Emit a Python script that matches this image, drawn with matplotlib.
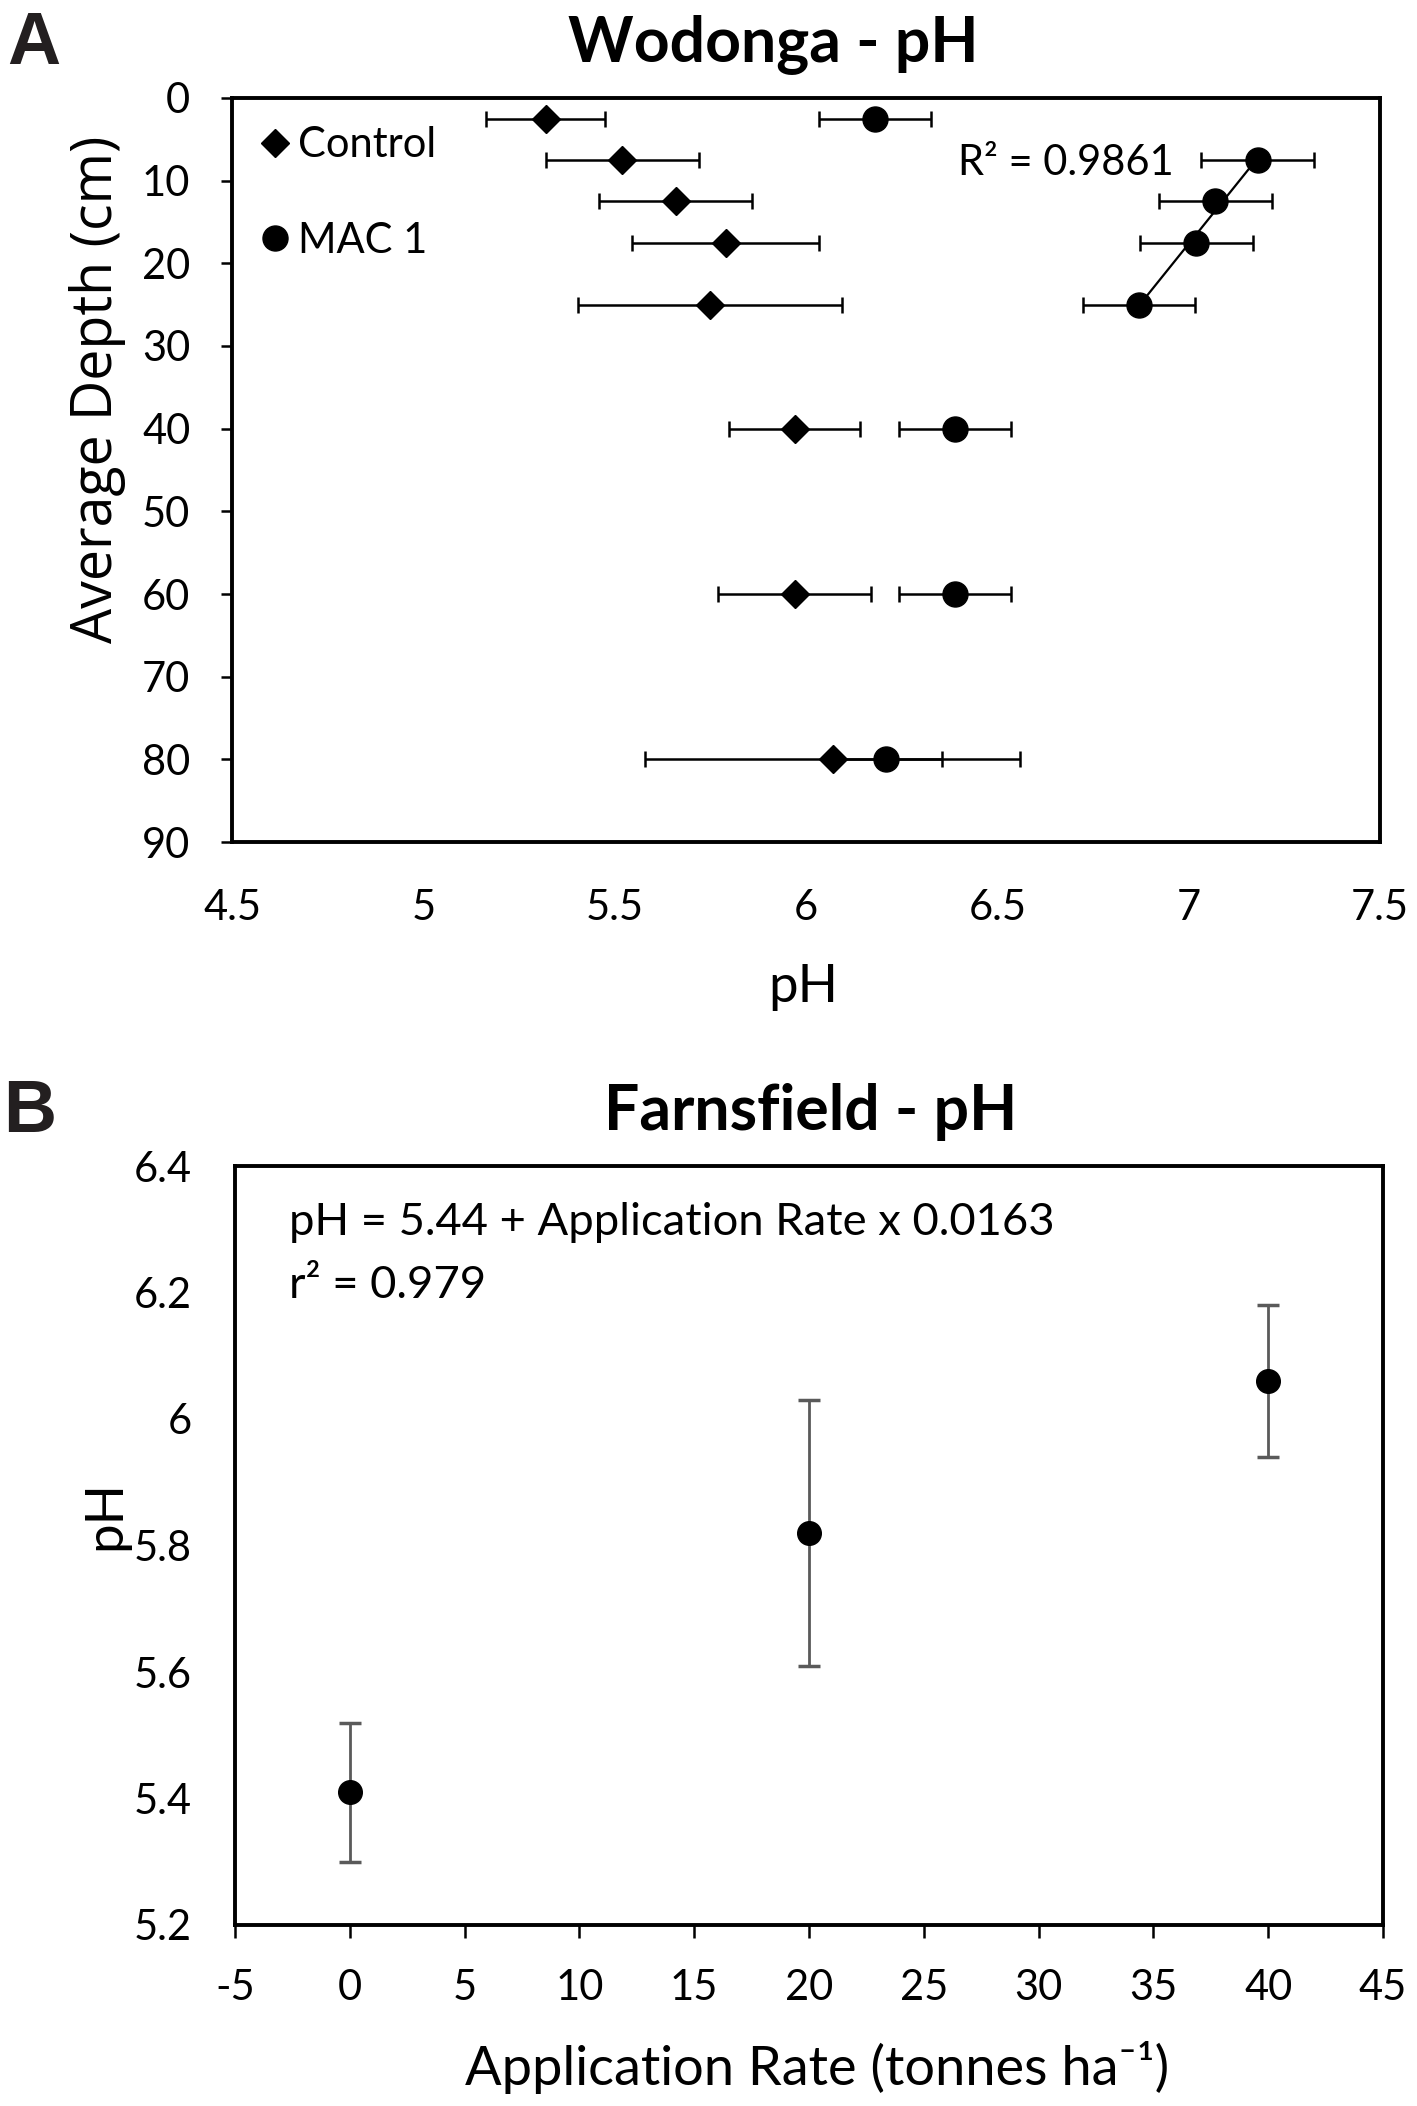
import matplotlib
matplotlib.use('Agg')
import matplotlib.pyplot as plt
import numpy as np

plt.rcParams['font.family'] = ['Lato', 'DejaVu Sans']
plt.rcParams['axes.unicode_minus'] = False

# Panel A: Wodonga, pH by depth
depth = [2.5, 7.5, 12.5, 17.5, 25, 40, 60, 80]
control_ph = [5.32, 5.52, 5.66, 5.79, 5.75, 5.97, 5.97, 6.07]
control_err = [0.155, 0.20, 0.20, 0.245, 0.345, 0.17, 0.20, 0.49]
mac_ph = [6.18, 7.18, 7.07, 7.02, 6.87, 6.39, 6.39, 6.21]
mac_err = [0.146, 0.147, 0.147, 0.147, 0.147, 0.146, 0.146, 0.146]
trend_idx = [1, 2, 3, 4]   # MAC 1 points used for the trendline
r2_text_a = 'R² = 0.9861'

# Panel B: Farnsfield, pH by application rate
rate = [0, 20, 40]
rate_ph = [5.41, 5.82, 6.06]
rate_err = [0.11, 0.21, 0.12]
eq_text = 'pH = 5.44 + Application Rate x 0.0163'
r2_text_b = 'r² = 0.979'

W, H = 1417, 2106
fig = plt.figure(figsize=(W / 100, H / 100), dpi=100)


def frac_box(left, top, right, bottom):
    return [left / W, 1 - bottom / H, (right - left) / W, (bottom - top) / H]


SPINE_W = 2.8
TICK_FS = 30

# ---------------- panel A ----------------
ax = fig.add_axes(frac_box(232, 98, 1380, 842))
ax.errorbar(control_ph, depth, xerr=control_err, fmt='none', ecolor='black',
            elinewidth=1.8, capsize=6, capthick=1.8, zorder=2)
ax.errorbar(mac_ph, depth, xerr=mac_err, fmt='none', ecolor='black',
            elinewidth=1.8, capsize=6, capthick=1.8, zorder=2)

tx = np.array([mac_ph[i] for i in trend_idx])
ty = np.array([depth[i] for i in trend_idx])
fit = np.polyfit(tx, ty, 1)
xs = np.array([tx.min(), tx.max()])
ax.plot(xs, np.polyval(fit, xs), color='black', lw=1.6, zorder=3)

h_ctrl, = ax.plot(control_ph, depth, ls='none', marker='D', ms=14,
                  color='black', zorder=4, label='Control')
h_mac, = ax.plot(mac_ph, depth, ls='none', marker='o', ms=18,
                 color='black', zorder=4, label='MAC 1')

ax.set_xlim(4.5, 7.5)
ax.set_ylim(90, 0)
ax.set_xticks(np.arange(4.5, 7.51, 0.5))
ax.set_xticklabels(['4.5', '5', '5.5', '6', '6.5', '7', '7.5'])
ax.set_yticks(np.arange(0, 91, 10))
ax.tick_params(axis='x', length=0, pad=34, labelsize=TICK_FS)
ax.tick_params(axis='y', direction='out', length=8, width=1.8, pad=22,
               labelsize=TICK_FS)
for s in ax.spines.values():
    s.set_linewidth(SPINE_W)

ax.set_xlabel('pH', fontsize=38)
ax.xaxis.label.set_va('center')
ax.xaxis.set_label_coords(0.498, -0.195)
ax.set_ylabel('Average Depth (cm)', fontsize=40, family=['Open Sans', 'DejaVu Sans'])
ax.yaxis.label.set_va('center')
ax.yaxis.set_label_coords(-0.117, 0.608)

ax.text(0.632, 0.9126, r2_text_a, transform=ax.transAxes, fontsize=30,
        ha='left', va='center')

ax.legend(handles=[h_ctrl, h_mac], loc='upper left',
          bbox_to_anchor=(0.027, 0.962), frameon=False, fontsize=30,
          handlelength=0.6, handletextpad=0.25, labelspacing=1.38,
          borderpad=0, borderaxespad=0)

fig.text(773 / W, 1 - 44 / H, 'Wodonga - pH', fontsize=45, fontweight='bold',
         ha='center', va='center')
fig.text(34 / W, 1 - 44 / H, 'A', fontsize=53, fontweight='bold',
         family='Liberation Sans', color='#231f20', ha='center', va='center')

# ---------------- panel B ----------------
bx = fig.add_axes(frac_box(235, 1166, 1383, 1925))
bx.errorbar(rate, rate_ph, yerr=rate_err, fmt='none', ecolor='#5a5a5a',
            elinewidth=2.0, capsize=8, capthick=2.5, zorder=2)
bx.plot(rate, rate_ph, ls='none', marker='o', ms=17, color='black', zorder=3)

bx.set_xlim(-5, 45)
bx.set_ylim(5.2, 6.4)
bx.set_xticks(np.arange(-5, 46, 5))
bx.set_yticks(np.arange(5.2, 6.41, 0.2))
bx.set_yticklabels(['5.2', '5.4', '5.6', '5.8', '6', '6.2', '6.4'])
bx.tick_params(axis='x', direction='out', length=9, width=1.8, pad=23,
               labelsize=TICK_FS)
bx.tick_params(axis='y', length=0, pad=31, labelsize=TICK_FS)
for s in bx.spines.values():
    s.set_linewidth(SPINE_W)

bx.set_xlabel('Application Rate (tonnes ha⁻¹)', fontsize=39)
bx.xaxis.label.set_va('center')
bx.xaxis.set_label_coords(0.507, -0.188)
bx.set_ylabel('pH', fontsize=38)
bx.yaxis.label.set_va('center')
bx.yaxis.set_label_coords(-0.113, 0.54)

bx.text(0.047, 0.926, eq_text, transform=bx.transAxes, fontsize=32.7,
        ha='left', va='center')
bx.text(0.047, 0.843, r2_text_b, transform=bx.transAxes, fontsize=32.7,
        ha='left', va='center')

fig.text(811 / W, 1 - 1112 / H, 'Farnsfield - pH', fontsize=45,
         fontweight='bold', ha='center', va='center')
fig.text(30 / W, 1 - 1112 / H, 'B', fontsize=53, fontweight='bold',
         family='Liberation Sans', color='#231f20', ha='center', va='center')

fig.savefig('out.png', dpi=100, facecolor='white')
